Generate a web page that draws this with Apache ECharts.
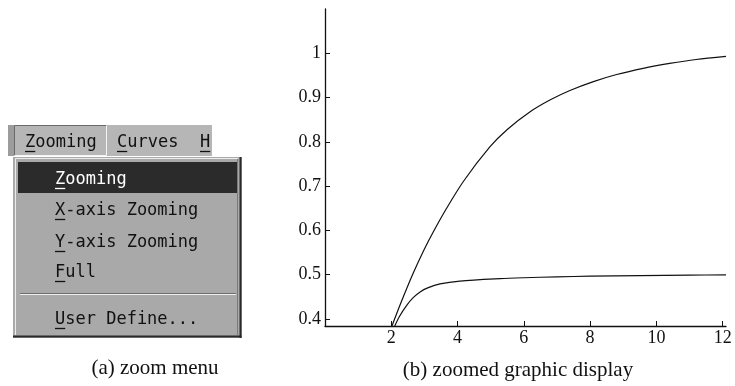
<!DOCTYPE html>
<html>
<head>
<meta charset="utf-8">
<script src="https://cdn.jsdelivr.net/npm/echarts@6/dist/echarts.min.js"></script>
<style>
html,body{margin:0;padding:0;background:#fff;}
#chart{width:735px;height:386px;}
</style>
</head>
<body>
<div id="chart"></div>
<script>
// ---- data ----
const upperX = [2.0, 2.3, 2.66, 3.0, 3.27, 3.63, 4.18, 4.98, 5.5, 6.19, 6.8, 7.39, 8.1, 8.8, 9.6, 10.4, 11.2, 12.1];
const upperY = [0.38, 0.438, 0.503, 0.558, 0.597, 0.645, 0.711, 0.789, 0.828, 0.868, 0.895, 0.916, 0.936, 0.952, 0.966, 0.977, 0.986, 0.993];
const lowerX = [2.08, 2.25, 2.46, 2.66, 2.87, 3.1, 3.47, 4.07, 5.28, 6.0, 7.0, 8.0, 9.5, 11.0, 12.1];
const lowerY = [0.38, 0.406, 0.43, 0.448, 0.461, 0.47, 0.479, 0.4855, 0.491, 0.493, 0.495, 0.4965, 0.498, 0.499, 0.4995];
const xTicks = [2, 4, 6, 8, 10, 12];
const yTicks = [0.4, 0.5, 0.6, 0.7, 0.8, 0.9, 1.0];
const menuBarItems = ['Zooming', 'Curves', 'H'];
const menuItems = ['Zooming', 'X-axis Zooming', 'Y-axis Zooming', 'Full', 'User Define...'];
const captionA = '(a) zoom menu';
const captionB = '(b) zoomed graphic display';

const pair = (xs, ys) => xs.map((x, i) => [x, ys[i]]);

const monoFont = '17px "DejaVu Sans Mono"';
const charW = 17 * 0.602;
const serif = '"Liberation Serif", "DejaVu Serif", serif';

const graphics = [];
// menu bar
graphics.push({type:'rect', shape:{x:8, y:125, width:204, height:31}, style:{fill:'#b6b6b6'}});
graphics.push({type:'rect', shape:{x:8, y:125, width:6, height:31}, style:{fill:'#9c9c9c'}});
// pressed "Zooming" button borders
graphics.push({type:'line', shape:{x1:14.5, y1:125.5, x2:106.5, y2:125.5}, style:{stroke:'#6a6a6a', lineWidth:1}});
graphics.push({type:'line', shape:{x1:14.5, y1:125.5, x2:14.5, y2:155.5}, style:{stroke:'#6a6a6a', lineWidth:1}});
graphics.push({type:'line', shape:{x1:106.5, y1:125.5, x2:106.5, y2:155.5}, style:{stroke:'#f4f4f4', lineWidth:1}});
graphics.push({type:'line', shape:{x1:14.5, y1:155.5, x2:106.5, y2:155.5}, style:{stroke:'#f4f4f4', lineWidth:1}});
// dropdown
graphics.push({type:'rect', shape:{x:13, y:157, width:229, height:181}, style:{fill:'#a9a9a9'}});
graphics.push({type:'line', shape:{x1:15.5, y1:158.5, x2:238, y2:158.5}, style:{stroke:'#ececec', lineWidth:1}});
graphics.push({type:'line', shape:{x1:15.5, y1:158.5, x2:15.5, y2:335}, style:{stroke:'#ececec', lineWidth:1}});
graphics.push({type:'line', shape:{x1:237.5, y1:159, x2:237.5, y2:335}, style:{stroke:'#7a7a7a', lineWidth:1}});
graphics.push({type:'line', shape:{x1:240.5, y1:157, x2:240.5, y2:338}, style:{stroke:'#2a2a2a', lineWidth:2}});
graphics.push({type:'line', shape:{x1:13, y1:336.5, x2:241.5, y2:336.5}, style:{stroke:'#2a2a2a', lineWidth:2}});
// highlight bar
graphics.push({type:'rect', shape:{x:18, y:162, width:219, height:31}, style:{fill:'#2b2b2b'}});
// separator
graphics.push({type:'line', shape:{x1:20, y1:293.5, x2:236, y2:293.5}, style:{stroke:'#6e6e6e', lineWidth:1}});
graphics.push({type:'line', shape:{x1:20, y1:294.5, x2:236, y2:294.5}, style:{stroke:'#f0f0f0', lineWidth:1}});

function addText(txt, x, baseline, color) {
  graphics.push({type:'text', x:x, y:baseline - 5, style:{text:txt, fill:color, font:monoFont, verticalAlign:'middle', align:'left'}});
  graphics.push({type:'line', shape:{x1:x, y1:baseline + 3.5, x2:x + charW, y2:baseline + 3.5}, style:{stroke:color, lineWidth:1.3}});
}
const barX = [25, 117, 200];
menuBarItems.forEach((t, i) => addText(t, barX[i], 148, '#111111'));
const itemBase = [185, 216, 248, 278, 325];
menuItems.forEach((t, i) => addText(t, 55, itemBase[i], i === 0 ? '#ffffff' : '#111111'));
// captions
graphics.push({type:'text', x:155, y:368, style:{text:captionA, fill:'#111', font:'21px ' + serif, align:'center', verticalAlign:'middle'}});
graphics.push({type:'text', x:518, y:370, style:{text:captionB, fill:'#111', font:'21px ' + serif, align:'center', verticalAlign:'middle'}});

const chart = echarts.init(document.getElementById('chart'), null, {renderer:'canvas'});
const axisCommon = {
  axisLine:{show:true, onZero:false, lineStyle:{color:'#111', width:1.3}},
  splitLine:{show:false},
};
chart.setOption({
  animation:false,
  backgroundColor:'#ffffff',
  grid:{left:325, top:9, right:9, bottom:60, containLabel:false},
  xAxis:{
    type:'value', min:0, max:12.1,
    ...axisCommon,
    axisTick:{show:true, inside:true, length:5, customValues:xTicks, lineStyle:{color:'#111', width:1}},
    axisLabel:{show:true, customValues:xTicks, margin:3, color:'#111', fontFamily:serif, fontSize:18}
  },
  yAxis:{
    type:'value', min:0.384, max:1.1,
    ...axisCommon,
    axisTick:{show:true, inside:true, length:5, customValues:yTicks, lineStyle:{color:'#111', width:1}},
    axisLabel:{show:true, customValues:yTicks, margin:4, color:'#111', fontFamily:serif, fontSize:18,
      formatter:(v) => String(Math.round(v * 10) / 10)}
  },
  series:[
    {type:'line', data:pair(upperX, upperY), smooth:0.3, showSymbol:false, clip:true,
     lineStyle:{color:'#111', width:1.2}},
    {type:'line', data:pair(lowerX, lowerY), smooth:0.3, showSymbol:false, clip:true,
     lineStyle:{color:'#111', width:1.2}}
  ],
  graphic:graphics
});
</script>
</body>
</html>
